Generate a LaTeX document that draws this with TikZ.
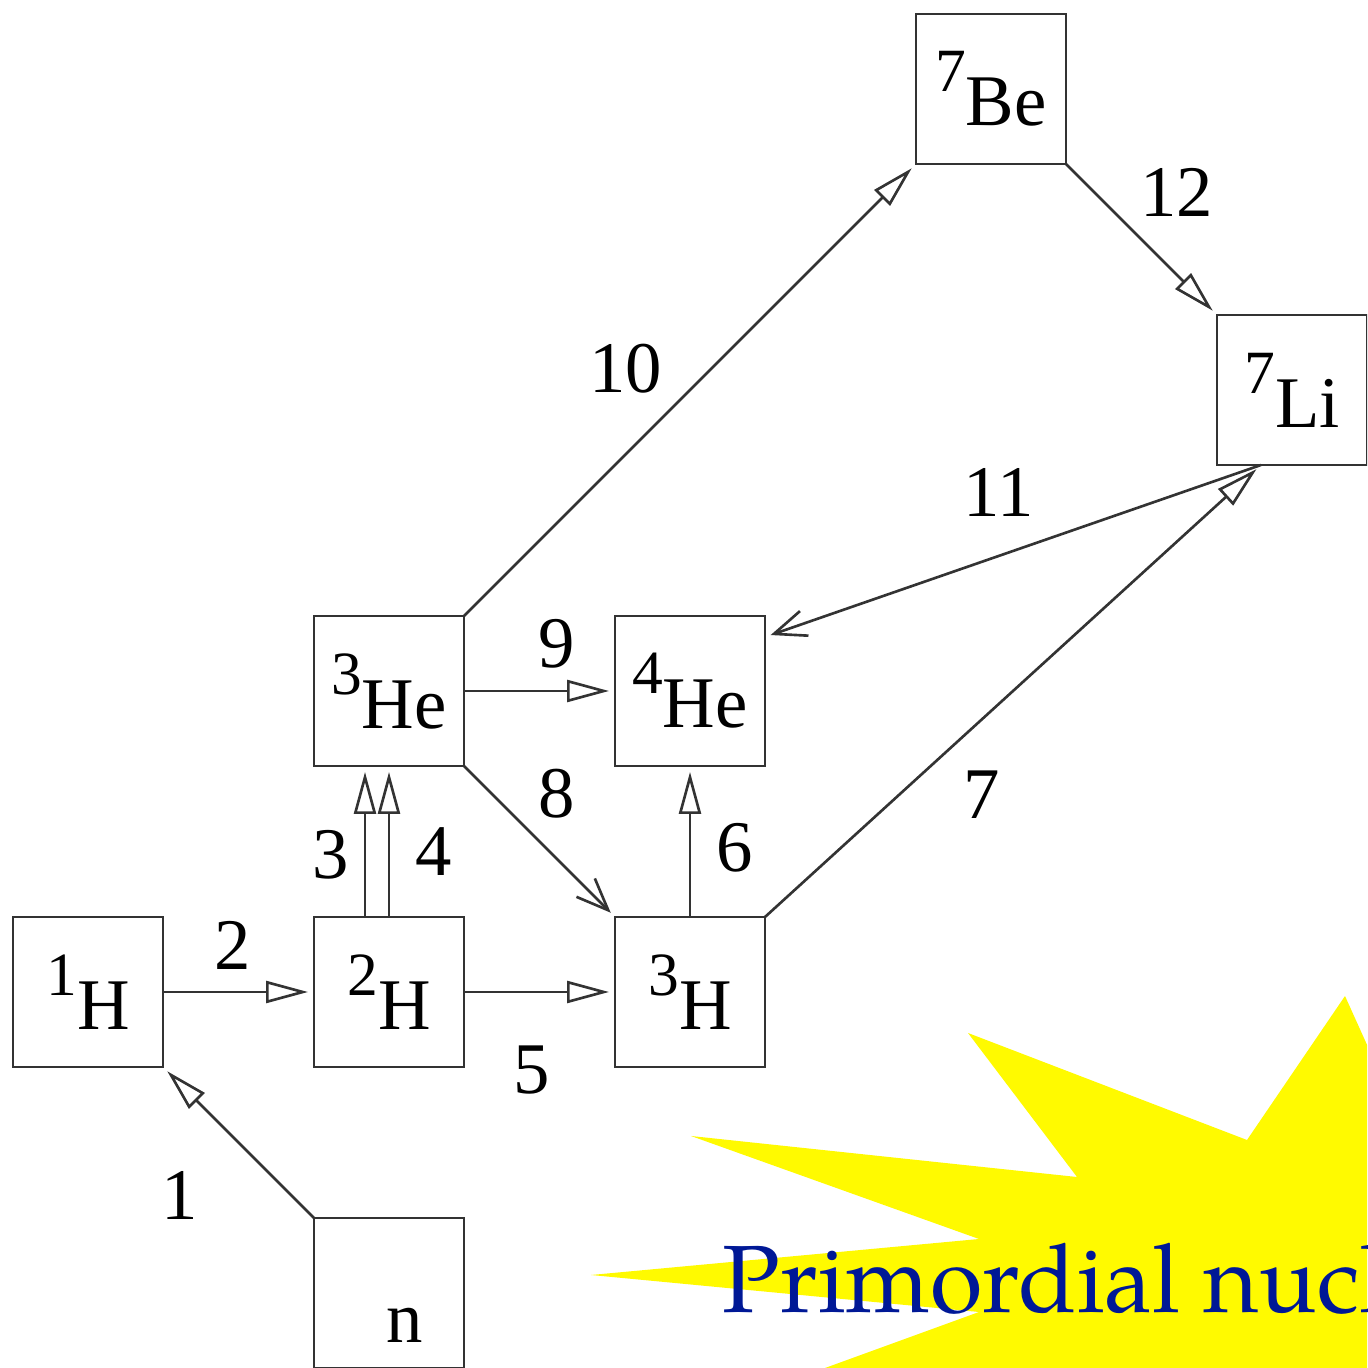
\documentclass[tikz,border=0pt]{standalone}
\usepackage{fontspec}
\setmainfont{Liberation Serif}
\newfontfamily\palfont{TeX Gyre Pagella}
\usetikzlibrary{arrows.meta, positioning}
\definecolor{primblue}{RGB}{0,24,150}
\definecolor{staryellow}{RGB}{255,250,0}
\newcommand{\nuclide}[2]{\raisebox{0.34cm}{\fontsize{17.5}{17.5}\selectfont #1}#2}

\begin{document}
\begin{tikzpicture}[
    nucbox/.style={rectangle, draw=black!80, line width=0.8pt,
        minimum size=1.5cm, inner sep=0pt, outer sep=0pt,
        font=\fontsize{20.7}{24}\selectfont},
    num/.style={inner sep=0pt, font=\fontsize{20.7}{24}\selectfont},
    arrow/.style={-{Triangle[open, length=0.42cm, width=0.22cm]},
        draw=black!80, line width=0.75pt, shorten >=0.06cm},
    barb/.style={-{Straight Barb[length=0.32cm, width=0.26cm]},
        draw=black!80, line width=0.75pt, shorten >=0.06cm},
    node distance=1.51cm
]
\useasboundingbox (0,0) rectangle (13.67,13.68);
\clip (0,0) rectangle (13.67,13.68);
% yellow burst behind the title
\fill[staryellow] (5.91,0.93) -- (9.79,1.29) -- (6.91,2.32) -- (10.77,1.91)
    -- (9.68,3.35) -- (12.47,2.28) -- (13.45,3.72) -- (14.00,2.50)
    -- (14.50,-0.50) -- (7.37,-0.32) -- (9.79,0.56) -- cycle;
\node[anchor=base west, inner sep=0pt, text=primblue,
      font=\palfont\fontsize{27.2}{32}\selectfont] (title) at (7.22,0.55)
    {Primordial nucleosynthesis};
% nuclide boxes
\node[nucbox] (H1) at (0.88,3.76) {\nuclide{1}{H}};
\node[nucbox, right=of H1] (H2) {\nuclide{2}{H}};
\node[nucbox, right=of H2] (H3) {\nuclide{3}{H}};
\node[nucbox, above=of H2] (He3) {\nuclide{3}{He}};
\node[nucbox, above=of H3] (He4) {\nuclide{4}{He}};
\node[nucbox, above right=4.52cm and 1.51cm of He4] (Be7) {\nuclide{7}{Be}};
\node[nucbox, below right=1.51cm and 1.51cm of Be7] (Li7) {\nuclide{7}{Li}};
\node[nucbox, below=of H2, text height=1cm, text depth=0pt] (n)
    {\hspace*{0.32cm}n};
\coordinate (Li7in) at ([xshift=-0.31cm]Li7.south);
\coordinate (He4r) at ([yshift=-0.21cm]He4.north east);
% reactions
\draw[arrow] (n.north west) -- node[num, pos=0.54, xshift=-0.53cm, yshift=-0.59cm] (r1) {1} (H1.south east);
\draw[arrow] (H1) -- node[num, midway, xshift=-0.06cm, yshift=0.47cm] (r2) {2} (H2);
\draw[arrow] ([xshift=-0.24cm]H2.north) -- node[num, midway, xshift=-0.34cm, yshift=-0.13cm] (r3) {3} ([xshift=-0.24cm]He3.south);
\draw[arrow] (H2.north) -- node[num, midway, xshift=0.45cm, yshift=-0.10cm] (r4) {4} (He3.south);
\draw[arrow] (H2) -- node[num, midway, xshift=-0.08cm, yshift=-0.78cm] (r5) {5} (H3);
\draw[arrow] (H3) -- node[num, midway, xshift=0.45cm, yshift=-0.06cm] (r6) {6} (He4);
\draw[arrow] (H3.north east) -- node[num, pos=0.36, xshift=0.38cm, yshift=-0.40cm] (r7) {7} (Li7in);
\draw[barb] (He3.south east) -- node[num, pos=0.41, xshift=0.31cm, yshift=0.34cm] (r8) {8} (H3.north west);
\draw[arrow] (He3) -- node[num, midway, xshift=0.17cm, yshift=0.47cm] (r9) {9} (He4);
\draw[arrow] (He3.north east) -- node[num, pos=0.46, xshift=-0.46cm, yshift=0.39cm] (r10) {10} (Be7.south west);
\draw[barb] (Li7in) -- node[num, midway, xshift=-0.14cm, yshift=0.59cm] (r11) {11} (He4r);
\draw[arrow] (Be7.south east) -- node[num, pos=0.47, xshift=0.40cm, yshift=0.43cm] (r12) {12} (Li7.north west);
\end{tikzpicture}
\end{document}
